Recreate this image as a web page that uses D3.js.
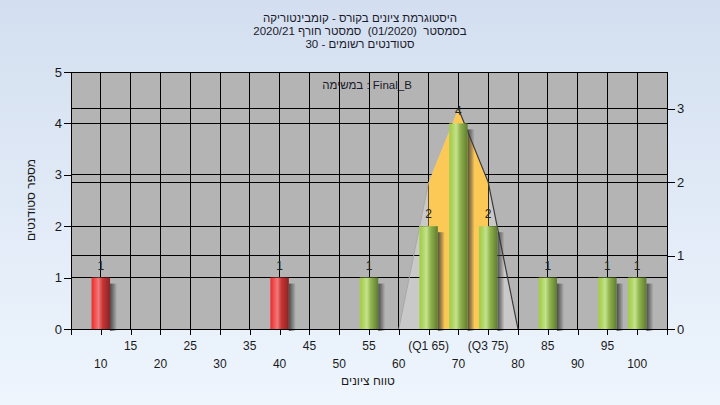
<!DOCTYPE html>
<html><head><meta charset="utf-8">
<script src="https://cdn.jsdelivr.net/npm/d3@7"></script>
<style>
html,body{margin:0;padding:0;}
body{width:720px;height:405px;overflow:hidden;}
text{font-family:"Liberation Sans",Arial,"DejaVu Sans",sans-serif;}
</style></head>
<body>
<svg id="c" width="720" height="405"></svg>
<script>
// ---- data ----
const grades = [10, 40, 55, 65, 70, 75, 85, 95, 100];
const counts = [1, 1, 1, 2, 4, 2, 1, 1, 1];
const passMark = 55;
const curveX = [60, 65, 70, 75, 80];
const curveY = [0, 2, 3, 2, 0];
const quartileX = [65, 70, 75];
const quartileY = [2, 3, 2];
const row1Ticks = [15, 25, 35, 45, 55, 65, 75, 85, 95];
const row1Labels = ["15", "25", "35", "45", "55", "(Q1 65)", "(Q3 75)", "85", "95"];
const row2Ticks = [10, 20, 30, 40, 50, 60, 70, 80, 90, 100];
const leftTicks = [0, 1, 2, 3, 4, 5];
const rightTicks = [0, 1, 2, 3];
const titleLines = ["היסטוגרמת ציונים בקורס - קומבינטוריקה", "בסמסטר\u00a0\u00a0(01/2020)\u00a0\u00a0סמסטר חורף 2020/21", "סטודנטים רשומים - 30"];
const subTitle = "במשימה : Final_B";
const xTitle = "טווח ציונים";
const yTitle = "מספר סטודנטים";

const svg = d3.select("#c");
const L = 71, R = 667, T = 72, B = 329;
const x = d3.scaleLinear().domain([5, 105]).range([L, R]);
const yL = d3.scaleLinear().domain([0, 5]).range([B, T]);
const yR = d3.scaleLinear().domain([0, 3.5]).range([B, T]);

const defs = svg.append("defs");
const bgG = defs.append("linearGradient").attr("id", "bg").attr("x1", 0).attr("y1", 0).attr("x2", 0).attr("y2", 1);
bgG.append("stop").attr("offset", 0).attr("stop-color", "#d3dff0");
bgG.append("stop").attr("offset", 1).attr("stop-color", "#eef5fd");
function barGrad(id, stops) {
  const g = defs.append("linearGradient").attr("id", id).attr("x1", 0).attr("y1", 0).attr("x2", 1).attr("y2", 0);
  stops.forEach(s => g.append("stop").attr("offset", s[0]).attr("stop-color", s[1]));
}
barGrad("red", [[0, "#f02828"], [0.15, "#f04848"], [0.38, "#f07a7a"], [0.6, "#c83434"], [1, "#8c2424"]]);
barGrad("green", [[0, "#a4cc48"], [0.15, "#acd25a"], [0.38, "#c4e38c"], [0.6, "#92b44e"], [1, "#5e7c30"]]);
const sh = defs.append("linearGradient").attr("id", "shadow").attr("x1", 0).attr("y1", 0).attr("x2", 1).attr("y2", 0);
sh.append("stop").attr("offset", 0).attr("stop-color", "#3a3a3a").attr("stop-opacity", 0.85);
sh.append("stop").attr("offset", 0.5).attr("stop-color", "#3a3a3a").attr("stop-opacity", 0.45);
sh.append("stop").attr("offset", 1).attr("stop-color", "#3a3a3a").attr("stop-opacity", 0);

svg.append("rect").attr("width", 720).attr("height", 405).attr("fill", "url(#bg)");
svg.append("rect").attr("x", L).attr("y", T).attr("width", R - L).attr("height", B - T).attr("fill", "#b4b4b4");

// light gray curve area (semi transparent)
const area = d3.area().x(d => x(d[0])).y0(yR(0)).y1(d => yR(d[1]));
svg.append("path").datum(curveX.map((v, i) => [v, curveY[i]])).attr("d", area)
  .attr("fill", "#ffffff").attr("fill-opacity", 0.28);

// gridlines
const grid = svg.append("g").attr("stroke", "#000").attr("stroke-width", 1).attr("shape-rendering", "crispEdges");
d3.range(10, 105, 5).forEach(v => grid.append("line").attr("x1", x(v)).attr("x2", x(v)).attr("y1", T).attr("y2", B));
leftTicks.filter(v => v > 0 && v < 5).forEach(v => grid.append("line").attr("x1", L).attr("x2", R).attr("y1", yL(v)).attr("y2", yL(v)));
rightTicks.filter(v => v > 0).forEach(v => grid.append("line").attr("x1", L).attr("x2", R).attr("y1", yR(v)).attr("y2", yR(v)));

// quartile area (orange)
svg.append("path").datum(quartileX.map((v, i) => [v, quartileY[i]])).attr("d", area).attr("fill", "#fdc956");

// curve outline on the right side
const line = d3.line().x(d => x(d[0])).y(d => yR(d[1]));
svg.append("path").datum(curveX.map((v, i) => [v, curveY[i]]).slice(2)).attr("d", line)
  .attr("fill", "none").attr("stroke", "#3a3a3a").attr("stroke-width", 1.2);
svg.append("path").datum(curveX.map((v, i) => [v, curveY[i]]).slice(0, 2)).attr("d", line)
  .attr("fill", "none").attr("stroke", "#a8a8a8").attr("stroke-width", 1);

// bars
const bw = x(3.1) - x(0);
const bars = svg.append("g");
grades.forEach((g, i) => {
  const x0 = x(g) - bw / 2, top = yL(counts[i]);
  bars.append("rect").attr("x", x0 + bw).attr("y", top + 6).attr("width", 7).attr("height", B - top - 4)
    .attr("fill", "url(#shadow)");
  bars.append("rect").attr("x", x0).attr("y", top).attr("width", bw).attr("height", B - top)
    .attr("fill", g < passMark ? "url(#red)" : "url(#green)");
  bars.append("text").attr("x", x(g)).attr("y", top - 8).attr("text-anchor", "middle")
    .attr("font-size", 12).attr("fill", "#222").text(counts[i]);
});

// frame
const fr = svg.append("g").attr("stroke", "#000").attr("stroke-width", 1).attr("shape-rendering", "crispEdges");
fr.append("line").attr("x1", L).attr("x2", L).attr("y1", T).attr("y2", B);
fr.append("line").attr("x1", R).attr("x2", R).attr("y1", T).attr("y2", B);
fr.append("line").attr("x1", L).attr("x2", R).attr("y1", T).attr("y2", T);

// axes
const axB = svg.append("g").attr("transform", `translate(0,${B})`)
  .call(d3.axisBottom(x).tickValues(d3.range(5, 106, 5)).tickSize(6).tickFormat(""));
const axL = svg.append("g").attr("transform", `translate(${L},0)`)
  .call(d3.axisLeft(yL).tickValues(leftTicks).tickSize(7).tickFormat(d3.format("d")));
const axR = svg.append("g").attr("transform", `translate(${R},0)`)
  .call(d3.axisRight(yR).tickValues(rightTicks).tickSize(8).tickFormat(d3.format("d")));
[axB, axL, axR].forEach(a => {
  a.selectAll("path.domain").attr("stroke", "#000").attr("shape-rendering", "crispEdges");
  a.selectAll(".tick line").attr("stroke", "#000").attr("shape-rendering", "crispEdges");
  a.selectAll("text").attr("font-family", '"Liberation Sans",Arial,sans-serif').attr("font-size", 13).attr("fill", "#1a1a1a");
});
axB.select("path.domain").attr("d", `M${L},0H${R}`);
axL.select("path.domain").attr("d", `M0,${T}V${B}`);
axR.select("path.domain").attr("d", `M0,${T}V${B}`);
axL.selectAll("text").attr("x", -9);
axR.selectAll("text").attr("x", 10);

// bottom tick labels (two rows)
const xl = svg.append("g").attr("font-size", 12).attr("fill", "#1a1a1a").attr("text-anchor", "middle");
row1Ticks.forEach((v, i) => xl.append("text").attr("x", x(v)).attr("y", 350).text(row1Labels[i]));
row2Ticks.forEach(v => xl.append("text").attr("x", x(v)).attr("y", 368).text(v));

// titles
const tt = svg.append("g").attr("font-size", 11.5).attr("fill", "#1a1a2a").attr("text-anchor", "middle");
titleLines.forEach((t, i) => tt.append("text").attr("x", 360).attr("y", 22 + i * 13).attr("direction", "rtl").text(t));
svg.append("text").attr("x", 367).attr("y", 89).attr("text-anchor", "middle").attr("font-size", 11.5)
  .attr("fill", "#1a1a2a").text(subTitle);
svg.append("text").attr("x", 368).attr("y", 385).attr("text-anchor", "middle").attr("font-size", 12)
  .attr("fill", "#1a1a1a").attr("direction", "rtl").text(xTitle);
svg.append("text").attr("transform", "translate(35,200) rotate(-90)").attr("text-anchor", "middle").attr("font-size", 12)
  .attr("fill", "#1a1a1a").attr("direction", "rtl").text(yTitle);
</script>
</body></html>
